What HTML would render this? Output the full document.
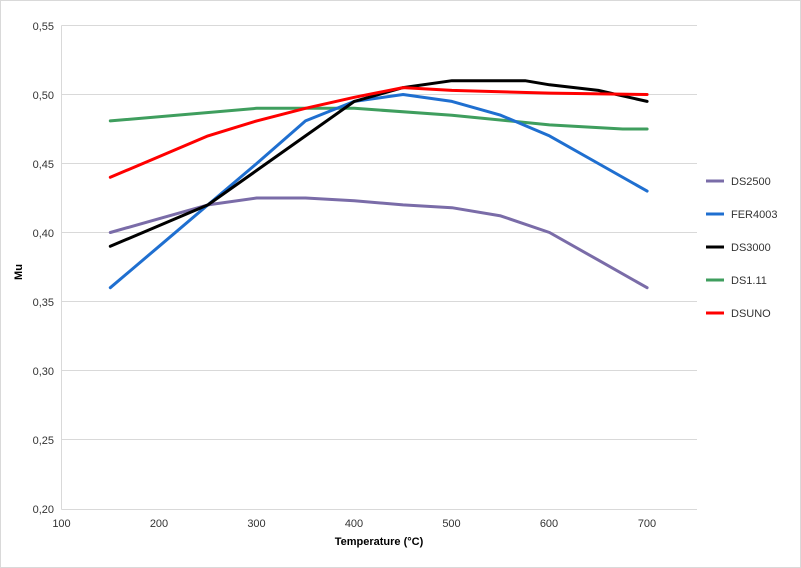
<!DOCTYPE html>
<html><head><meta charset="utf-8"><style>body{margin:0;background:#fff}svg{display:block;font-family:"Liberation Sans",sans-serif}</style></head><body>
<svg width="801" height="568" viewBox="0 0 801 568">
<rect x="0.5" y="0.5" width="800" height="567" fill="#fff" stroke="#d9d9d9"/>
<g stroke="#d9d9d9" stroke-width="1">
<line x1="61.5" y1="25.5" x2="697" y2="25.5"/><line x1="61.5" y1="94.5" x2="697" y2="94.5"/>
<line x1="61.5" y1="163.5" x2="697" y2="163.5"/><line x1="61.5" y1="232.5" x2="697" y2="232.5"/>
<line x1="61.5" y1="301.5" x2="697" y2="301.5"/><line x1="61.5" y1="370.5" x2="697" y2="370.5"/>
<line x1="61.5" y1="439.5" x2="697" y2="439.5"/><line x1="61.5" y1="509.5" x2="697" y2="509.5"/>
<line x1="61.5" y1="25.5" x2="61.5" y2="509.5"/>
</g>
<g font-size="11" fill="#333" text-anchor="end">
<text x="54" y="30">0,55</text><text x="54" y="99">0,50</text><text x="54" y="168">0,45</text><text x="54" y="237">0,40</text><text x="54" y="306">0,35</text><text x="54" y="375">0,30</text><text x="54" y="444">0,25</text><text x="54" y="513">0,20</text>
</g>
<g font-size="11" fill="#333" text-anchor="middle">
<text x="61.5" y="527">100</text><text x="159" y="527">200</text><text x="256.5" y="527">300</text><text x="354" y="527">400</text><text x="451.5" y="527">500</text><text x="549" y="527">600</text><text x="647" y="527">700</text>
</g>
<text x="379" y="545" font-size="11" font-weight="bold" text-anchor="middle" fill="#000">Temperature (°C)</text>
<text x="22" y="272" font-size="11" font-weight="bold" text-anchor="middle" fill="#000" transform="rotate(-90 22 272)">Mu</text>
<g fill="none" stroke-width="3" stroke-linejoin="round" stroke-linecap="round">
<polyline stroke="#3f9e5e" points="110.3,120.9 256.7,108.3 354.3,108.3 451.9,115.2 549.5,124.9 622.7,129 647.1,129"/>
<polyline stroke="#7a6ca8" points="110.3,232.5 159.1,218.7 207.9,204.9 256.7,198 305.5,198 354.3,200.8 403.1,204.9 451.9,207.7 500.7,215.9 549.5,232.5 598.3,260.1 647.1,287.7"/>
<polyline stroke="#1f6fd0" points="110.3,287.7 159.1,246.3 207.9,204.9 256.7,163.5 305.5,120.9 354.3,101.4 403.1,94.5 451.9,101.4 500.7,115.2 549.5,135.9 598.3,163.5 647.1,191.1"/>
<polyline stroke="#000" points="110.3,246.3 159.1,225.6 207.9,204.9 256.7,170.4 305.5,135.9 354.3,101.4 403.1,87.6 451.9,80.7 500.7,80.7 525.1,80.7 549.5,84.8 598.3,90.4 647.1,101.4"/>
<polyline stroke="#ff0000" points="110.3,177.3 159.1,156.6 207.9,135.9 256.7,120.9 305.5,108.3 354.3,97.3 403.1,87.6 451.9,90.4 549.5,93.1 647.1,94.5"/>
</g>
<g stroke-width="3">
<line x1="706" y1="181" x2="724" y2="181" stroke="#7a6ca8"/>
<line x1="706" y1="214" x2="724" y2="214" stroke="#1f6fd0"/>
<line x1="706" y1="247" x2="724" y2="247" stroke="#000"/>
<line x1="706" y1="280" x2="724" y2="280" stroke="#3f9e5e"/>
<line x1="706" y1="313" x2="724" y2="313" stroke="#ff0000"/>
</g>
<g font-size="11" fill="#333">
<text x="731" y="185">DS2500</text><text x="731" y="218">FER4003</text><text x="731" y="251">DS3000</text><text x="731" y="284">DS1.11</text><text x="731" y="317">DSUNO</text>
</g>
</svg>
</body></html>
